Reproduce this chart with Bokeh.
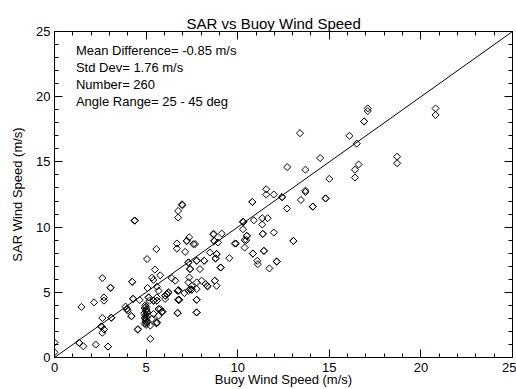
from bokeh.plotting import figure
from bokeh.models import (ColumnDataSource, FixedTicker, LinearAxis, Range1d,
                          Slope, Label, CustomJSTickFormatter)
from bokeh.embed import file_html
from bokeh.resources import INLINE

# ---------------- data ----------------
buoy = [
    20.8, 20.8, 17.1, 17.1, 16.9, 16.9, 16.1, 16.5, 14.5, 13.4,
    13.7, 15.0, 16.6, 16.4, 16.4, 18.7, 18.7, 13.7, 13.7, 14.8,
    14.8, 12.7, 6.96, 6.75, 6.75, 11.56, 11.56, 11.97, 12.42, 12.42,
    13.45, 10.8, 10.8, 12.69, 14.1, 14.1, 10.3, 10.3, 10.3, 10.88,
    11.34, 11.64, 11.34, 10.29, 11.37, 11.37, 11.97, 13.04, 13.04, 10.5,
    10.5, 8.7, 9.13, 7.35, 7.22, 7.22, 8.72, 8.72, 8.93, 10.47,
    9.9, 10.38, 10.83, 10.83, 11.43, 11.43, 8.48, 8.85, 8.85, 8.79,
    8.79, 9.54, 9.07, 9.07, 8.17, 8.17, 11.07, 11.1, 11.73, 12.13,
    12.13, 7.58, 7.67, 6.68, 6.68, 7.13, 4.38, 4.38, 4.38, 5.56,
    5.05, 2.61, 3.06, 3.06, 4.24, 4.24, 5.48, 5.32, 5.77, 5.4,
    7.31, 7.31, 7.76, 7.76, 7.4, 7.4, 7.94, 6.4, 6.59, 7.36,
    7.31, 7.49, 7.76, 8.03, 8.25, 8.75, 8.75, 8.34, 7.4, 7.4,
    6.76, 6.76, 6.76, 6.76, 6.76, 6.22, 6.22, 6.04, 6.04, 7.76,
    7.76, 6.71, 5.59, 5.08, 4.29, 4.29, 4.65, 5.14, 5.14, 5.41,
    5.41, 5.68, 5.68, 5.85, 5.85,
    4.95, 5.0, 4.92, 5.02, 4.97, 5.05, 4.9, 5.0, 4.95, 5.03,
    4.93, 5.0, 4.98, 5.06, 4.92, 5.0, 4.96, 5.04, 4.94, 5.0,
    5.23, 5.56, 4.56, 5.23, 3.95, 3.95, 4.2, 4.2, 3.1, 3.1,
    2.61, 2.7, 2.7, 2.16, 1.47, 2.56, 2.56, 2.7, 2.7, 2.61,
    1.35, 1.35, 1.58, 2.25, 2.92, 2.92, 2.92, 0.0, 0.0, 5.41,
    5.32, 5.59, 5.19, 5.59, 5.68, 6.13, 6.13, 6.04, 5.59, 5.59,
    5.77, 5.9, 5.68, 5.59, 6.73, 6.73, 6.8, 6.8, 7.31, 7.49,
    7.49, 7.76, 7.09, 7.76, 6.73, 7.76, 8.36, 8.85, 3.88, 4.0,
    4.54, 9.84, 10.38, 8.66, 6.98,
]
sar = [
    19.1, 18.6, 19.1, 18.9, 18.1, 18.1, 17.0, 16.4, 15.3, 17.2,
    14.4, 13.7, 14.8, 14.4, 13.8, 15.4, 14.9, 12.8, 12.7, 12.2,
    12.2, 14.6, 11.75, 11.24, 10.73, 12.9, 12.5, 12.5, 12.3, 12.3,
    12.08, 11.93, 11.93, 11.42, 11.57, 11.57, 10.4, 10.4, 10.4, 10.52,
    10.68, 10.68, 10.2, 9.84, 9.48, 9.48, 9.58, 8.94, 8.94, 9.33,
    9.33, 9.46, 9.5, 9.22, 8.94, 8.94, 8.94, 8.94, 8.82, 9.0,
    8.74, 8.43, 7.97, 7.97, 8.18, 8.18, 8.05, 7.93, 7.93, 7.6,
    7.6, 7.62, 6.9, 6.9, 7.42, 7.42, 7.42, 7.16, 6.83, 7.36,
    7.36, 8.69, 8.7, 8.74, 8.35, 8.1, 10.5, 10.5, 10.5, 8.31,
    7.55, 6.09, 5.35, 5.35, 5.81, 5.81, 6.74, 6.12, 6.3, 5.95,
    7.29, 7.29, 7.42, 7.42, 6.78, 6.78, 6.78, 6.09, 5.89, 6.14,
    5.76, 5.5, 5.76, 5.89, 5.63, 5.89, 5.89, 5.5, 5.22, 5.22,
    5.15, 5.15, 5.15, 4.42, 4.42, 4.99, 4.99, 4.74, 4.74, 4.42,
    3.46, 3.4, 5.43, 5.33, 4.5, 4.5, 4.41, 4.61, 4.61, 4.36,
    4.36, 3.72, 3.72, 3.5, 3.5,
    4.0, 3.9, 3.8, 3.7, 3.6, 3.5, 3.4, 3.3, 3.2, 3.1,
    3.0, 2.9, 2.8, 2.7, 2.6, 2.5, 3.85, 3.45, 3.05, 2.65,
    2.45, 2.62, 2.17, 1.43, 3.72, 3.72, 3.17, 3.17, 3.05, 3.05,
    3.03, 4.61, 4.36, 4.23, 3.88, 2.38, 2.38, 2.15, 2.15, 1.9,
    1.12, 1.12, 0.86, 0.99, 0.84, 0.84, 0.84, 1.15, 0.4, 3.34,
    2.96, 2.7, 4.36, 4.61, 5.12, 4.87, 4.87, 4.49, 4.36, 4.36,
    3.72, 3.52, 3.21, 2.65, 5.12, 5.12, 4.43, 4.43, 5.12, 5.2,
    5.2, 5.25, 4.94, 4.43, 3.42, 3.46, 5.45, 5.5, 3.9, 3.59,
    2.14, 8.74, 9.0, 9.46, 11.67,
]

x_ticks = [0, 5, 10, 15, 20, 25]
y_ticks = [0, 5, 10, 15, 20, 25]
minor = list(range(0, 26))

stats_lines = [
    "Mean Difference= -0.85 m/s",
    "Std Dev= 1.76 m/s",
    "Number= 260",
    "Angle Range= 25 - 45 deg",
]

FONT = "Liberation Sans"

# ---------------- figure ----------------
p = figure(width=516, height=389, output_backend="svg", toolbar_location=None,
           x_range=Range1d(0, 25), y_range=Range1d(0, 25),
           min_border_left=54, min_border_right=4, min_border_top=31,
           min_border_bottom=32, x_axis_location=None, y_axis_location=None)
p.background_fill_color = "white"
p.border_fill_color = "white"
p.outline_line_color = "black"
p.outline_line_width = 1
p.xgrid.visible = False
p.ygrid.visible = False

p.title.text = "SAR vs Buoy Wind Speed"
p.title.text_font = FONT
p.title.text_font_size = "15px"
p.title.text_font_style = "normal"
p.title.text_color = "black"
p.title.align = "left"
p.title.offset = 132
p.title.standoff = 0


def style_axis(ax, ticks, labels=True):
    ax.ticker = FixedTicker(ticks=ticks, minor_ticks=minor)
    ax.axis_line_color = "black"
    ax.major_tick_line_color = "black"
    ax.minor_tick_line_color = "black"
    ax.major_tick_in = 8
    ax.major_tick_out = 0
    ax.minor_tick_in = 4
    ax.minor_tick_out = 0
    ax.major_label_text_font = FONT
    ax.axis_label_text_font = FONT
    ax.axis_label_text_font_style = "normal"
    ax.major_label_text_color = "black"
    ax.axis_label_text_color = "black"
    ax.major_label_text_font_size = "13px"
    ax.axis_label_text_font_size = "13px"
    if not labels:
        ax.formatter = CustomJSTickFormatter(code="return '';")
        ax.major_label_standoff = 0


xb = LinearAxis(axis_label="Buoy Wind Speed (m/s)")
style_axis(xb, x_ticks)
xb.major_label_standoff = 5
xb.axis_label_standoff = -3
p.add_layout(xb, "below")

yl = LinearAxis(axis_label="SAR Wind Speed (m/s)")
style_axis(yl, y_ticks)
yl.major_label_standoff = 4
yl.axis_label_standoff = 8
p.add_layout(yl, "left")

xt = LinearAxis()
style_axis(xt, x_ticks, labels=False)
p.add_layout(xt, "above")

yr = LinearAxis()
style_axis(yr, y_ticks, labels=False)
p.add_layout(yr, "right")

src = ColumnDataSource(data=dict(buoy=buoy, sar=sar))
p.scatter("buoy", "sar", source=src, marker="square", size=5, angle=45,
          angle_units="deg", fill_color=None, line_color="black", line_width=1)

p.add_layout(Slope(gradient=1, y_intercept=0, line_color="black", line_width=1))

for i, t in enumerate(stats_lines):
    p.add_layout(Label(x=1.17, y=23.55 - 1.3 * i, text=t, text_font=FONT,
                       text_font_size="13px", text_color="black",
                       text_baseline="alphabetic"))

open("out.html", "w").write(file_html(p, INLINE))
